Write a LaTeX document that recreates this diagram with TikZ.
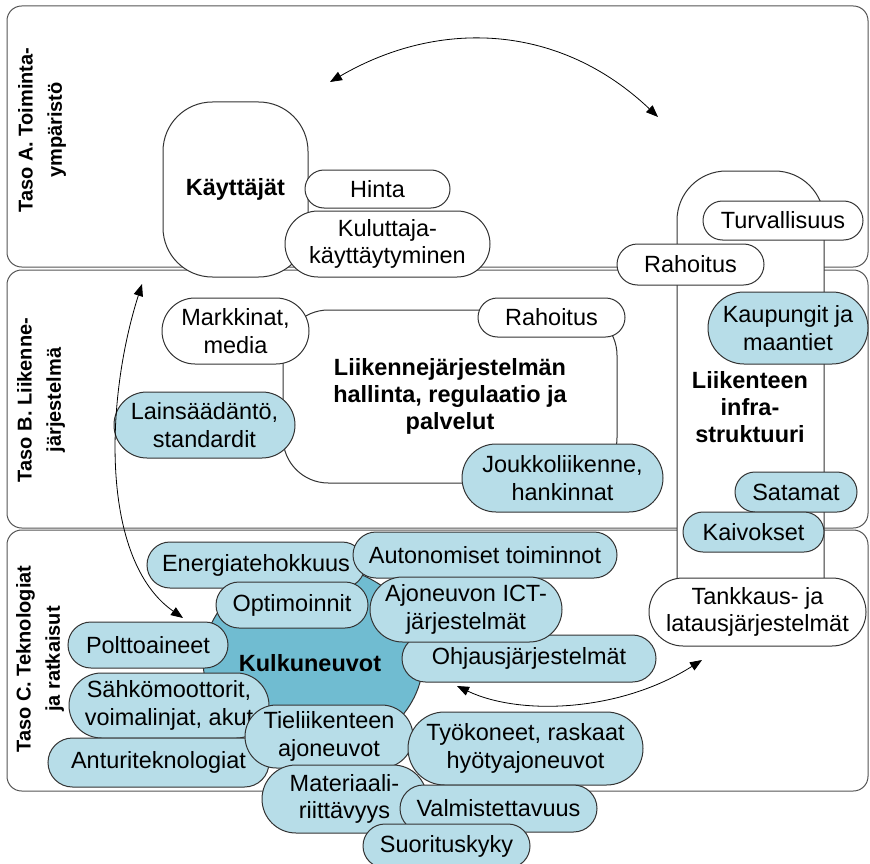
\documentclass[tikz,border=0pt]{standalone}
\usepackage{fontspec}
\setmainfont{Liberation Sans}
\usetikzlibrary{shapes.misc,shapes.geometric,arrows.meta}
\definecolor{lb}{HTML}{B7DDE8}
\definecolor{db}{HTML}{70BCD1}
\definecolor{ol}{HTML}{333333}
\definecolor{bandcol}{HTML}{555555}
\newcommand\mainfnt{\fontsize{17.6}{20.5}\selectfont}
\tikzset{
  pill/.style={draw=ol, line width=0.75pt, rounded rectangle, inner sep=0pt, align=center, font=\mainfnt},
  wpill/.style={pill, fill=white},
  bpill/.style={pill, fill=lb},
  sz/.style 2 args={minimum width=#1*0.75pt, minimum height=#2*0.75pt},
  band/.style={draw=bandcol, fill=white, rounded corners=11pt, line width=0.75pt, inner sep=0pt},
  vlabel/.style={rotate=90, align=center, font=\fontsize{15}{22}\selectfont\bfseries},
  blabel/.style={align=center, font=\mainfnt\bfseries},
  bigbox/.style={draw=ol, fill=white, line width=0.75pt, inner sep=0pt},
  conn/.style={{Triangle[length=9pt,width=7pt]}-{Triangle[length=9pt,width=7pt]}, line width=0.6pt, black}
}
\begin{document}
\begin{tikzpicture}[x=0.75pt,y=-0.75pt]
\useasboundingbox (0,0) rectangle (870,863);
% bands
\node[band, sz={861}{261}] (bandA) at (437.5,136.5) {};
\node[band, sz={861}{258}] (bandB) at (437.5,399) {};
\node[band, sz={861}{261}] (bandC) at (437.5,660.5) {};
\node[vlabel] (labA) at (42,130) {Taso A. Toiminta-\\ympäristö};
\node[vlabel] (labB) at (41,400) {Taso B. Liikenne-\\järjestelmä};
\node[vlabel] (labC) at (40,659) {Taso C. Teknologiat\\ja ratkaisut};
% level A
\node[bigbox, rounded corners=37pt, sz={145}{175}, blabel] (kay) at (235.5,189.5) {Käyttäjät};
\node[wpill, sz={145}{38}] (hinta) at (377.5,189) {Hinta};
\node[wpill, sz={205}{66}] (kul) at (387.5,244) {Kuluttaja-\\käyttäytyminen};
% infrastructure column
\draw[draw=ol, fill=white, line width=0.75pt, rounded corners=37pt] (677,600) -- (677,171) -- (824,171) -- (824,600);
\node[blabel] (infra) at (750,407) {Liikenteen\\infra-\\struktuuri};
\node[wpill, sz={147}{41}] (rah1) at (690.5,264.5) {Rahoitus};
\node[wpill, sz={160}{39}] (turv) at (783,220.5) {Turvallisuus};
% level B
\node[bigbox, rounded corners=34pt, sz={334}{173}, blabel] (hall) at (450,396.5) {Liikennejärjestelmän\\hallinta, regulaatio ja\\palvelut};
\node[wpill, sz={147}{66}] (mark) at (235.5,331) {Markkinat,\\media};
\node[bpill, sz={181}{66}] (lain) at (204.5,425) {Lainsäädäntö,\\standardit};
\node[wpill, sz={147}{39}] (rah2) at (551.5,317.5) {Rahoitus};
\node[bpill, sz={201}{68}] (jouk) at (562.5,478) {Joukkoliikenne,\\hankinnat};
\node[bpill, sz={160}{72}] (kaup) at (788,328) {Kaupungit ja\\maantiet};
\node[bpill, sz={122}{40}] (sata) at (796,492) {Satamat};
\node[bpill, sz={141}{40}] (kaiv) at (753.5,532) {Kaivokset};
\node[wpill, sz={217}{68}] (tank) at (757.5,612) {Tankkaus- ja\\latausjärjestelmät};
% level C
\node[ellipse, draw=ol, fill=db, line width=0.75pt, inner sep=0pt, sz={220}{190}] (kulk) at (313,660) {};
\node[blabel] (kulklbl) at (310,663) {Kulkuneuvot};
\node[bpill, sz={218}{46}] (ener) at (256,565) {Energiatehokkuus};
\node[bpill, sz={264}{46}] (auto) at (485,555) {Autonomiset toiminnot};
\node[bpill, sz={152}{46}] (opti) at (292,605) {Optimoinnit};
\node[bpill, sz={254}{47}] (ohj) at (529,658.5) {Ohjausjärjestelmät};
\node[bpill, sz={192}{65}] (ajo) at (466,609.5) {Ajoneuvon ICT-\\järjestelmät};
\node[bpill, sz={160}{46}] (polt) at (148,645) {Polttoaineet};
\node[bpill, sz={200}{65}] (sahk) at (169,705.5) {Sähkömoottorit,\\voimalinjat, akut};
\node[bpill, sz={221}{49}] (antu) at (158.5,762.5) {Anturiteknologiat};
\node[bpill, sz={168}{63}] (tiel) at (329,736.5) {Tieliikenteen\\ajoneuvot};
\node[bpill, sz={235}{73}] (tyok) at (525.5,748.5) {Työkoneet, raskaat\\hyötyajoneuvot};
\node[bpill, sz={165}{68}] (mate) at (344.5,799) {Materiaali-\\riittävyys};
\node[bpill, sz={197}{47}] (valm) at (498.5,808.5) {Valmistettavuus};
\node[bpill, sz={167}{44}] (suor) at (446.5,846) {Suorituskyky};
% connectors
\coordinate (t1) at (330,82);
\coordinate (t2) at (658,117);
\coordinate (l1) at (142,284);
\coordinate (l2) at (183,618);
\coordinate (b1) at (457,686);
\coordinate (b2) at (702,660);
\draw[conn] (t1) .. controls (440,18) and (560,24) .. (t2);
\draw[conn] (l1) .. controls (105,400) and (100,560) .. (l2);
\draw[conn] (b1) .. controls (520,716) and (620,712) .. (b2);
\end{tikzpicture}
\end{document}
